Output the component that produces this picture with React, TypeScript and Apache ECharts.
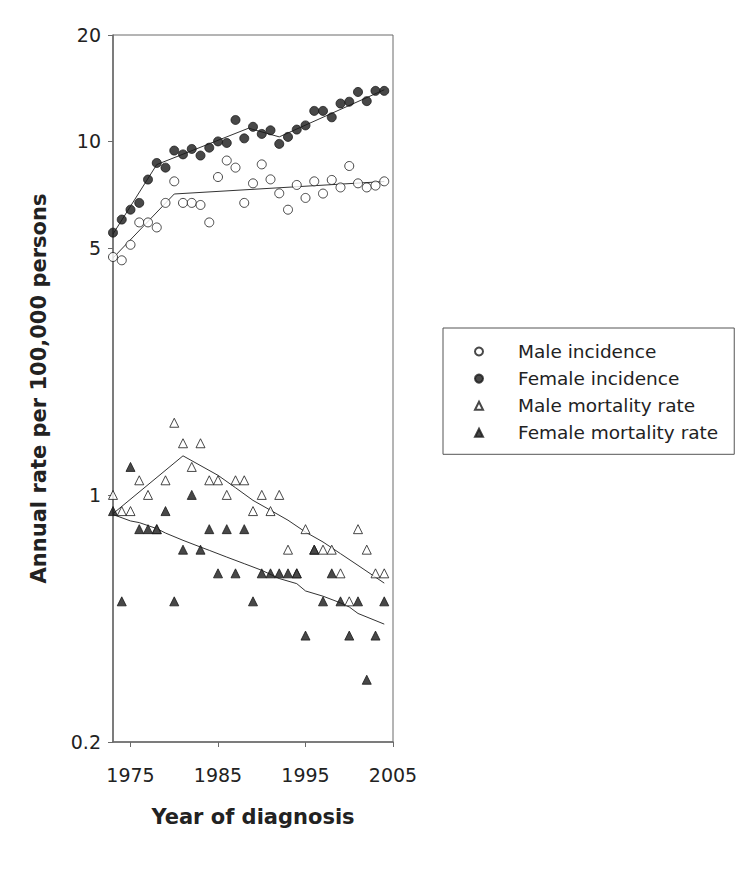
import React, { useEffect, useRef } from "react";
import * as echarts from "echarts";

const years = [
  1973, 1974, 1975, 1976, 1977, 1978, 1979, 1980, 1981, 1982, 1983, 1984, 1985, 1986, 1987, 1988,
  1989, 1990, 1991, 1992, 1993, 1994, 1995, 1996, 1997, 1998, 1999, 2000, 2001, 2002, 2003, 2004,
];

const maleIncidence = [
  4.71, 4.61, 5.1, 5.9, 5.9, 5.71, 6.7, 7.71, 6.7, 6.7, 6.61, 5.9, 7.93, 8.83, 8.43, 6.7,
  7.61, 8.61, 7.81, 7.13, 6.41, 7.53, 6.92, 7.71, 7.12, 7.78, 7.41, 8.52, 7.61, 7.41, 7.5, 7.71,
];
const femaleIncidence = [
  5.52, 6.01, 6.41, 6.7, 7.8, 8.69, 8.43, 9.42, 9.19, 9.52, 9.12, 9.6, 10.0, 9.9, 11.5, 10.2,
  11.0, 10.5, 10.75, 9.84, 10.3, 10.8, 11.1, 12.2, 12.2, 11.7, 12.8, 12.95, 13.8, 13.0, 13.9, 13.9,
];
const maleMortality = [
  1.0, 0.9, 0.9, 1.1, 1.0, 0.8, 1.1, 1.6, 1.4, 1.2, 1.4, 1.1, 1.1, 1.0, 1.1, 1.1,
  0.9, 1.0, 0.9, 1.0, 0.7, 0.6, 0.8, 0.7, 0.7, 0.7, 0.6, 0.5, 0.8, 0.7, 0.6, 0.6,
];
const femaleMortality = [
  0.9, 0.5, 1.2, 0.8, 0.8, 0.8, 0.9, 0.5, 0.7, 1.0, 0.7, 0.8, 0.6, 0.8, 0.6, 0.8,
  0.5, 0.6, 0.6, 0.6, 0.6, 0.6, 0.4, 0.7, 0.5, 0.6, 0.5, 0.4, 0.5, 0.3, 0.4, 0.5,
];

// Fitted trend lines (joinpoints)
const maleIncidenceFitYears = [1973, 1980, 2004];
const maleIncidenceFit = [4.68, 7.1, 7.7];
const femaleIncidenceFitYears = [1973, 1978, 1988.5, 1992, 2004];
const femaleIncidenceFit = [5.47, 8.6, 10.9, 10.3, 14.0];
const maleMortalityFitYears = [1973, 1981, 1985, 1987, 1989, 1991, 1993, 1995, 1997, 1999, 2001, 2004];
const maleMortalityFit = [0.885, 1.29, 1.136, 1.048, 0.965, 0.905, 0.848, 0.785, 0.736, 0.682, 0.632, 0.563];
const femaleMortalityFitYears = [
  1973, 1975, 1976, 1978, 1979, 1981, 1983, 1984, 1986, 1988, 1990, 1992, 1994, 1995, 1997, 1999, 2000, 2001, 2004,
];
const femaleMortalityFit = [
  0.88, 0.844, 0.835, 0.803, 0.78, 0.744, 0.712, 0.697, 0.667, 0.639, 0.612, 0.58, 0.561, 0.535, 0.517, 0.495, 0.482,
  0.462, 0.431,
];

const xTicks = [1975, 1985, 1995, 2005];
const yTicks = [0.2, 1, 5, 10, 20];

const seriesNames = ["Male incidence", "Female incidence", "Male mortality rate", "Female mortality rate"];

const FONT = "'DejaVu Sans', Verdana, sans-serif";
const INK = "#1a1a1a";
const AXIS = "#6a6a6a";

const zip = (xs: number[], ys: number[]) => xs.map((x, i) => [x, ys[i]]);

export default function App() {
  const ref = useRef<HTMLDivElement>(null);

  useEffect(() => {
    if (!ref.current) return;
    const chart = echarts.init(ref.current, undefined, { renderer: "svg" });

    const open = { color: "#ffffff", borderColor: INK, borderWidth: 1 };
    const filled = { color: INK, borderColor: INK, borderWidth: 1 };
    const fitLine = (name: string, xs: number[], ys: number[]) => ({
      name,
      type: "line",
      data: zip(xs, ys),
      showSymbol: false,
      symbol: "none",
      lineStyle: { color: "#333333", width: 1 },
      z: 1,
      silent: true,
    });

    chart.setOption({
      animation: false,
      backgroundColor: "#ffffff",
      textStyle: { fontFamily: FONT },
      grid: {
        left: 113,
        top: 35,
        right: 357,
        bottom: 139,
        show: true,
        borderColor: AXIS,
        borderWidth: 1,
        backgroundColor: "transparent",
      },
      legend: {
        data: seriesNames,
        orient: "vertical",
        left: 443,
        top: 328,
        padding: [14, 16, 12, 31],
        itemWidth: 8,
        itemHeight: 8,
        itemGap: 8.1,
        borderColor: "#555555",
        borderWidth: 1,
        backgroundColor: "#ffffff",
        textStyle: {
          fontFamily: FONT,
          fontSize: 18.5,
          lineHeight: 18,
          color: "#222222",
          padding: [0, 0, 0, 30],
        },
      },
      xAxis: {
        type: "value",
        min: 1973,
        max: 2005,
        name: "Year of diagnosis",
        nameLocation: "middle",
        nameGap: 64,
        nameTextStyle: { fontFamily: FONT, fontSize: 21, fontWeight: "bold", color: "#222222" },
        axisLine: { show: true, onZero: false, lineStyle: { color: AXIS, width: 1.5 } },
        axisTick: { show: true, inside: false, length: 5, lineStyle: { color: AXIS }, customValues: xTicks },
        axisLabel: {
          customValues: xTicks,
          margin: 23,
          fontFamily: FONT,
          fontSize: 19,
          color: "#222222",
          formatter: (v: number) => String(v),
        },
        splitLine: { show: false },
      },
      yAxis: {
        type: "log",
        logBase: 10,
        min: 0.2,
        max: 20,
        name: "Annual rate per 100,000 persons",
        nameLocation: "middle",
        nameGap: 64,
        nameTextStyle: { fontFamily: FONT, fontSize: 21, fontWeight: "bold", color: "#222222" },
        axisLine: { show: true, onZero: false, lineStyle: { color: AXIS, width: 1.5 } },
        axisTick: { show: true, inside: false, length: 5, lineStyle: { color: AXIS }, customValues: yTicks },
        axisLabel: {
          customValues: yTicks,
          margin: 12,
          fontFamily: FONT,
          fontSize: 19,
          color: "#222222",
          formatter: (v: number) => String(Math.round(v * 10) / 10),
        },
        splitLine: { show: false },
        minorTick: { show: false },
      },
      series: [
        fitLine("Male incidence fit", maleIncidenceFitYears, maleIncidenceFit),
        fitLine("Female incidence fit", femaleIncidenceFitYears, femaleIncidenceFit),
        fitLine("Male mortality fit", maleMortalityFitYears, maleMortalityFit),
        fitLine("Female mortality fit", femaleMortalityFitYears, femaleMortalityFit),
        {
          name: seriesNames[0],
          type: "scatter",
          symbol: "circle",
          symbolSize: 9,
          itemStyle: open,
          data: zip(years, maleIncidence),
          z: 3,
        },
        {
          name: seriesNames[1],
          type: "scatter",
          symbol: "circle",
          symbolSize: 9,
          itemStyle: filled,
          data: zip(years, femaleIncidence),
          z: 3,
        },
        {
          name: seriesNames[2],
          type: "scatter",
          symbol: "triangle",
          symbolSize: 9,
          itemStyle: open,
          data: zip(years, maleMortality),
          z: 3,
        },
        {
          name: seriesNames[3],
          type: "scatter",
          symbol: "triangle",
          symbolSize: 9,
          itemStyle: filled,
          data: zip(years, femaleMortality),
          z: 4,
        },
      ],
    });

    return () => chart.dispose();
  }, []);

  return <div ref={ref} style={{ width: 750, height: 881, position: "absolute", left: 0, top: 0 }} />;
}
